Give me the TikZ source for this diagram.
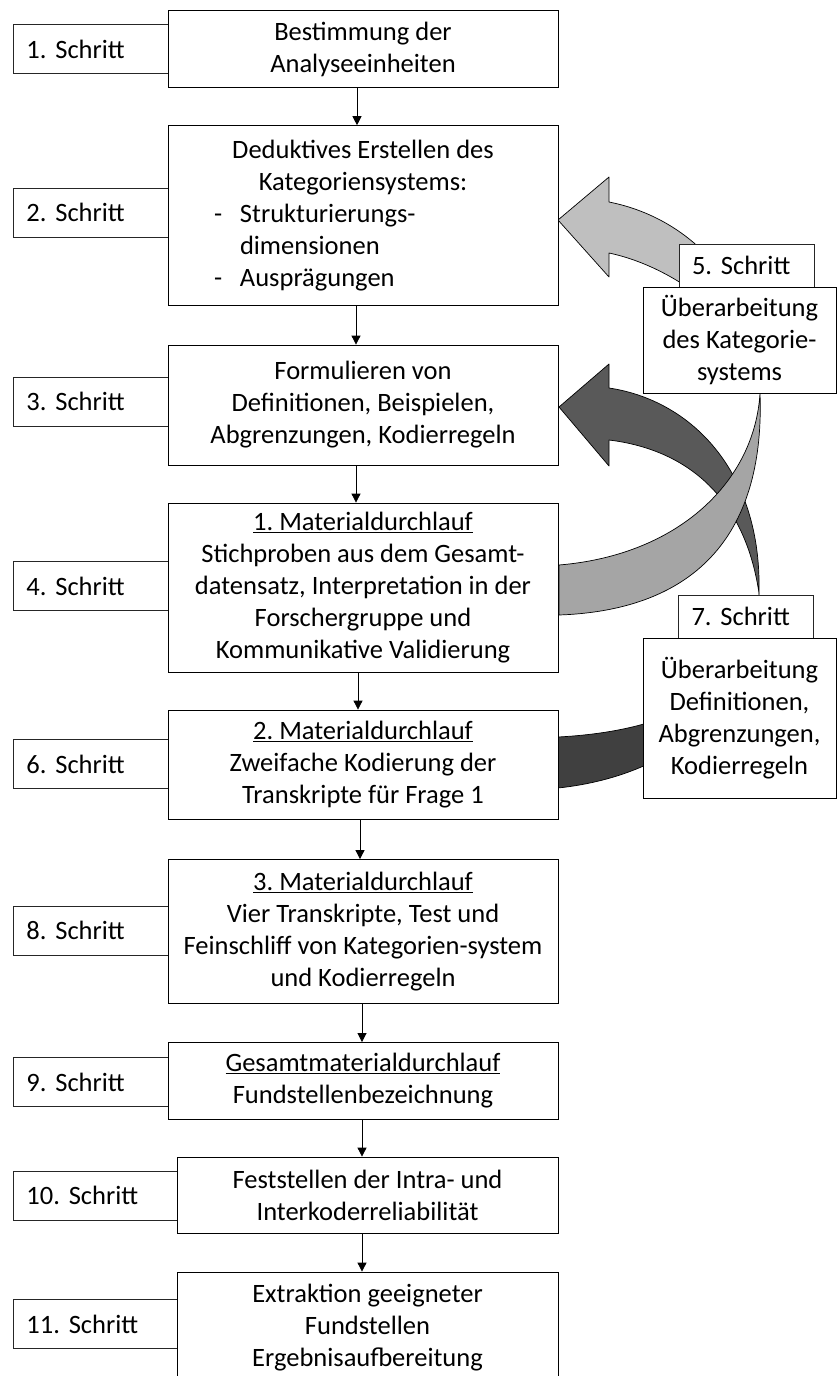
\documentclass[tikz,border=0pt]{standalone}
\usepackage{fontspec}
\setmainfont{Carlito}
\frenchspacing
\usetikzlibrary{arrows.meta,backgrounds}
\definecolor{lightfront}{HTML}{BFBFBF}
\definecolor{lightback}{HTML}{A5A5A5}
\definecolor{darkfront}{HTML}{595959}
\definecolor{darkback}{HTML}{404040}
\begin{document}
\begin{tikzpicture}[x=1pt,y=-1pt,
  every node/.style={font=\fontsize{26.5pt}{32pt}\selectfont},
  mainbox/.style={draw=black,fill=white,line width=0.8pt,align=center,inner sep=0pt,minimum width=390pt},
  narrowbox/.style={mainbox,minimum width=381pt},
  lblbox/.style={draw=black!85,fill=white,line width=0.8pt,anchor=west,inner xsep=13pt,inner ysep=0pt,minimum height=49pt,text width=129pt,align=left},
  widelbl/.style={lblbox,text width=138pt},
  sidelbl/.style={draw=black!85,fill=white,line width=0.8pt,inner xsep=13pt,inner ysep=0pt,minimum height=43pt,text width=109pt,align=left},
  sidebox/.style={draw=black,fill=white,line width=0.8pt,align=center,inner sep=0pt,minimum width=193pt},
  arr/.style={-{Triangle[width=9pt,length=9pt]},line width=0.8pt},
  band/.style={draw=black,line width=0.7pt,line join=round}]
\useasboundingbox (0,0) rectangle (837,1376);

% step labels
\node[lblbox] (l1) at (13,49) {1. Schritt};
\node[lblbox] (l2) at (13,212.5) {2. Schritt};
\node[lblbox] (l3) at (13,401.5) {3. Schritt};
\node[lblbox] (l4) at (13,586) {4. Schritt};
\node[lblbox] (l6) at (13,764) {6. Schritt};
\node[lblbox] (l8) at (13,930.5) {8. Schritt};
\node[lblbox] (l9) at (13,1082) {9. Schritt};
\node[widelbl] (l10) at (13,1195.5) {10. Schritt};
\node[widelbl] (l11) at (13,1324) {11. Schritt};

% main boxes
\node[mainbox,minimum height=76.6pt] (b1) at (363,49) {Bestimmung der\\Analyseeinheiten};
\node[mainbox,minimum height=180pt] (b2) at (363,215.6)
 {Deduktives Erstellen des\\Kategoriensystems:\\\makebox[390pt][l]{\hspace*{46pt}\makebox[26pt][l]{-}Strukturierungs-}\\\makebox[390pt][l]{\hspace*{72pt}dimensionen}\\\makebox[390pt][l]{\hspace*{46pt}\makebox[26pt][l]{-}Ausprägungen}};
\node[mainbox,minimum height=120pt] (b3) at (363,405) {Formulieren von\\Definitionen, Beispielen,\\Abgrenzungen, Kodierregeln};
\node[mainbox,minimum height=169.5pt] (b4) at (363,587.75) {\underline{1. Materialdurchlauf}\\Stichproben aus dem Gesamt-\\datensatz, Interpretation in der\\Forschergruppe und\\Kommunikative Validierung};
\node[mainbox,minimum height=109pt] (b6) at (363,764.5) {\underline{2. Materialdurchlauf}\\Zweifache Kodierung der\\Transkripte für Frage 1};
\node[mainbox,minimum height=144pt] (b8) at (363,931.5) {\underline{3. Materialdurchlauf}\\Vier Transkripte, Test und\\Feinschliff von Kategorien-system\\und Kodierregeln};
\node[mainbox,minimum height=76.5pt] (b9) at (363,1080.7) {\underline{Gesamtmaterialdurchlauf}\\Fundstellenbezeichnung};
\node[narrowbox,minimum height=76pt] (b10) at (367.5,1195) {Feststellen der Intra- und\\Interkoderreliabilität};
\node[narrowbox,minimum height=111pt] (b11) at (367.5,1327.5) {Extraktion geeigneter\\Fundstellen\\Ergebnisaufbereitung};

% side boxes
\node[sidelbl] (s5) at (746.5,265.5) {5. Schritt};
\node[sidebox,minimum height=106pt] (r5) at (739.5,340) {Überarbeitung\\des Kategorie-\\systems};
\node[sidelbl] (s7) at (746,616.5) {7. Schritt};
\node[sidebox,minimum height=160pt] (r7) at (739.5,718) {Überarbeitung\\Definitionen,\\Abgrenzungen,\\Kodierregeln};

% flow arrows
\draw[arr] ([xshift=-6pt]b1.south) -- ([xshift=-6pt]b1.south |- b2.north);
\draw[arr] ([xshift=-7pt]b2.south) -- ([xshift=-7pt]b2.south |- b3.north);
\draw[arr] ([xshift=-7pt]b3.south) -- ([xshift=-7pt]b3.south |- b4.north);
\draw[arr] ([xshift=-5pt]b4.south) -- ([xshift=-5pt]b4.south |- b6.north);
\draw[arr] ([xshift=-3pt]b6.south) -- ([xshift=-3pt]b6.south |- b8.north);
\draw[arr] ([xshift=-1pt]b8.south) -- ([xshift=-1pt]b8.south |- b9.north);
\draw[arr] ([xshift=-1pt]b9.south) -- ([xshift=-1pt]b9.south |- b10.north);
\draw[arr] ([xshift=-5.5pt]b10.south) -- ([xshift=-5.5pt]b10.south |- b11.north);

% curved feedback arrows
\begin{scope}[on background layer]
 % step 7: dark arrow
 \filldraw[band,fill=darkback] (759,593) .. controls (760,700) and (680,775) .. (558,788)
   -- (558,737) .. controls (690,730) and (755,680) .. (759,593) -- cycle;
 \filldraw[band,fill=darkfront] (559,407) -- (609,364) -- (609,388)
   .. controls (690,400) and (762,470) .. (759,593)
   .. controls (745,500) and (690,450) .. (609,440) -- (609,466) -- cycle;
 % step 5: light arrow
 \filldraw[band,fill=lightfront] (558,220) -- (609,177) -- (609,202)
   .. controls (700,220) and (762,300) .. (760,393)
   .. controls (758,330) and (680,268) .. (609,253) -- (609,277) -- cycle;
 \filldraw[band,fill=lightback] (760,393) .. controls (765,530) and (700,610) .. (559,615)
   -- (559,565) .. controls (680,555) and (755,480) .. (760,393) -- cycle;
\end{scope}
\end{tikzpicture}
\end{document}
